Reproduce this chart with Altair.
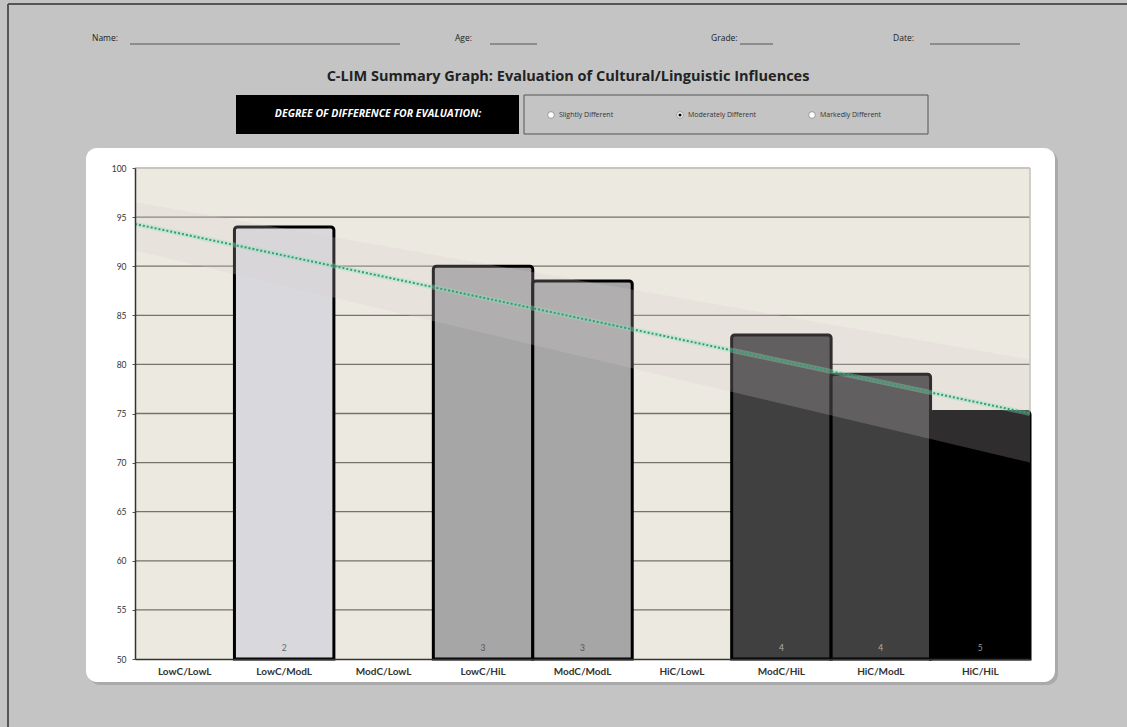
import altair as alt
import pandas as pd

# ---------------- data ----------------
categories = ["LowC/LowL", "LowC/ModL", "ModC/LowL", "LowC/HiL", "ModC/ModL",
              "HiC/LowL", "ModC/HiL", "HiC/ModL", "HiC/HiL"]
scores = [None, 94.0, None, 90.0, 88.5, None, 83.0, 79.0, 75.2]
levels = [None, 2, None, 3, 3, None, 4, 4, 5]

grid_values = [55, 60, 65, 70, 75, 80, 85, 90, 95]
y_ticks = [50, 55, 60, 65, 70, 75, 80, 85, 90, 95, 100]

# expected-range band and trend line (start / end values across the 9 categories)
band_pos = [0, 9]
band_upper = [96.5, 80.5]
band_lower = [91.6, 70.0]
trend_vals = [94.3, 75.0]

level_names = ["2", "3", "4", "5"]
level_fill = ["#d9d9dd", "#a6a6a6", "#404040", "#000000"]
level_text = ["#666666", "#555555", "#b0b0b0", "#9a9a9a"]

radio_labels = ["Slightly Different", "Moderately Different", "Markedly Different"]

# --------------- layout ----------------
W, H = 895, 491
L, T = 135, 168
FONT = "Lato"
HFONT = "Open Sans"


def px(x):
    return x - L


def py(y):
    return y - T


bars_df = pd.DataFrame({
    "cat": [c for c, s in zip(categories, scores) if s is not None],
    "score": [s for s in scores if s is not None],
    "level": [str(l) for l in levels if l is not None],
})
band_df = pd.DataFrame({"pos": band_pos, "upper": band_upper, "lower": band_lower, "trend": trend_vals})
grid_df = pd.DataFrame({"v": grid_values})
one = pd.DataFrame({"a": [0]})

base1 = alt.Chart(one)


def rect(x1, x2, y1, y2, **kw):
    return base1.mark_rect(**kw).encode(
        x=alt.value(px(x1)), x2=alt.value(px(x2)), y=alt.value(py(y1)), y2=alt.value(py(y2)))


def rule(x1, x2, y1, y2, **kw):
    return base1.mark_rule(**kw).encode(
        x=alt.value(px(x1)), x2=alt.value(px(x2)), y=alt.value(py(y1)), y2=alt.value(py(y2)))


def text(t, x, y, font=HFONT, **kw):
    return base1.mark_text(text=t, font=font, **kw).encode(x=alt.value(px(x)), y=alt.value(py(y)))


layers = []

# outer page border
layers.append(rule(8, 8, 4, 727, color="#555555", strokeWidth=2))
layers.append(rule(8, 1127, 4, 4, color="#555555", strokeWidth=2))

# white panel with shadow
layers.append(rect(89, 1058, 151, 685, fill="#9a9a9a", opacity=0.6, cornerRadius=11))
layers.append(rect(86, 1055, 148, 682, fill="#ffffff", cornerRadius=11))

# header fields
for lab, tx, lx1, lx2 in [("Name:", 92, 130, 400), ("Age:", 455, 490, 537),
                          ("Grade:", 711, 740, 773), ("Date:", 893, 930, 1020)]:
    layers.append(text(lab, tx, 38, align="left", baseline="middle", fontSize=8.5, color="#222222"))
    layers.append(rule(lx1, lx2, 44, 44, color="#555555", strokeWidth=1))

# title
layers.append(text("C-LIM Summary Graph: Evaluation of Cultural/Linguistic Influences", 568, 77,
                   align="center", baseline="middle", fontSize=14.5, fontWeight="bold", color="#222222"))

# degree-of-difference boxes
layers.append(rect(236, 519, 95, 134, fill="#000000"))
layers.append(text("DEGREE OF DIFFERENCE FOR EVALUATION:", 378, 114, align="center", baseline="middle",
                   fontSize=10.5, fontWeight="bold", fontStyle="italic", color="#ffffff"))
layers.append(rect(524, 928, 95, 134, fill="#c4c4c4", stroke="#555555", strokeWidth=1))
for lab, cx in zip(radio_labels, [551, 680, 812]):
    layers.append(base1.mark_point(filled=True, fill="#ffffff", stroke="#888888", strokeWidth=0.8, size=45,
                                   shape="circle", opacity=1).encode(x=alt.value(px(cx)), y=alt.value(py(115))))
    layers.append(text(lab, cx + 8, 115, align="left", baseline="middle", fontSize=7, color="#333333"))
layers.append(base1.mark_point(filled=True, color="#000000", size=10, shape="circle", opacity=1)
              .encode(x=alt.value(px(680)), y=alt.value(py(115))))

# plot background
layers.append(rect(L, L + W, T, T + H, fill="#ece9e1"))

yscale = alt.Scale(domain=[50, 100], nice=False, zero=False)
yaxis = alt.Axis(title=None, values=y_ticks, grid=False, labelFont=FONT, labelFontSize=8.5,
                 labelColor="#333333", tickSize=3, tickColor="#555555", labelPadding=6,
                 domainColor="#333333", domainWidth=1.5, zindex=1)

# gridlines
layers.append(alt.Chart(grid_df).mark_rule(color="#767369", strokeWidth=1.3).encode(
    y=alt.Y("v:Q", scale=yscale, axis=yaxis)))
layers.append(rule(L, L + W, T, T, color="#c9c5bc", strokeWidth=2))
layers.append(rule(L + W, L + W, T, T + H, color="#c2c0ba", strokeWidth=1.5))

# bars
bars = alt.Chart(bars_df).mark_bar(stroke="#000000", strokeWidth=3, cornerRadiusTopLeft=3,
                                   cornerRadiusTopRight=3, opacity=1).encode(
    x=alt.X("cat:N", scale=alt.Scale(domain=categories, paddingInner=0, paddingOuter=0),
            sort=categories,
            axis=alt.Axis(title=None, labelAngle=0, ticks=False, labelFont=FONT, labelFontSize=10,
                          labelFontWeight="bold", labelColor="#333333", labelPadding=7,
                          domainColor="#333333", domainWidth=1.5, zindex=1)),
    y=alt.Y("score:Q", scale=yscale, axis=yaxis),
    y2=alt.datum(50),
    fill=alt.Color("level:N", scale=alt.Scale(domain=level_names, range=level_fill), legend=None),
)
layers.append(bars)

xq = alt.Scale(domain=[0, 9], nice=False, zero=False)

# expected range band (translucent overlay)
layers.append(alt.Chart(band_df).mark_area(color="#d4cfcf", opacity=0.22, clip=True).encode(
    x=alt.X("pos:Q", scale=xq, axis=None),
    y=alt.Y("upper:Q", scale=yscale, axis=yaxis),
    y2="lower:Q"))

# trend line: glow + dotted
layers.append(alt.Chart(band_df).mark_line(color="#8fe0be", strokeWidth=5, opacity=0.35, clip=True).encode(
    x=alt.X("pos:Q", scale=xq, axis=None), y=alt.Y("trend:Q", scale=yscale, axis=yaxis)))
layers.append(alt.Chart(band_df).mark_line(color="#2f9f72", strokeWidth=2, strokeDash=[2, 2], clip=True).encode(
    x=alt.X("pos:Q", scale=xq, axis=None), y=alt.Y("trend:Q", scale=yscale, axis=yaxis)))

# bar level labels
layers.append(alt.Chart(bars_df).mark_text(font=FONT, fontSize=8.5, dy=-11, baseline="middle").encode(
    x=alt.X("cat:N", scale=alt.Scale(domain=categories, paddingInner=0, paddingOuter=0), sort=categories,
            axis=None),
    y=alt.datum(50),
    text="level:N",
    color=alt.Color("level:N", scale=alt.Scale(domain=level_names, range=level_text), legend=None)))

chart = alt.layer(*layers).resolve_scale(x="independent", color="independent").properties(
    width=W, height=H,
    padding={"left": L, "top": T, "right": 1127 - L - W, "bottom": 727 - T - H},
    autosize=alt.AutoSizeParams(type="none"),
    background="#c4c4c4",
).configure_view(stroke=None)

chart.save("out.html", embed_options={"renderer": "svg", "actions": False})
